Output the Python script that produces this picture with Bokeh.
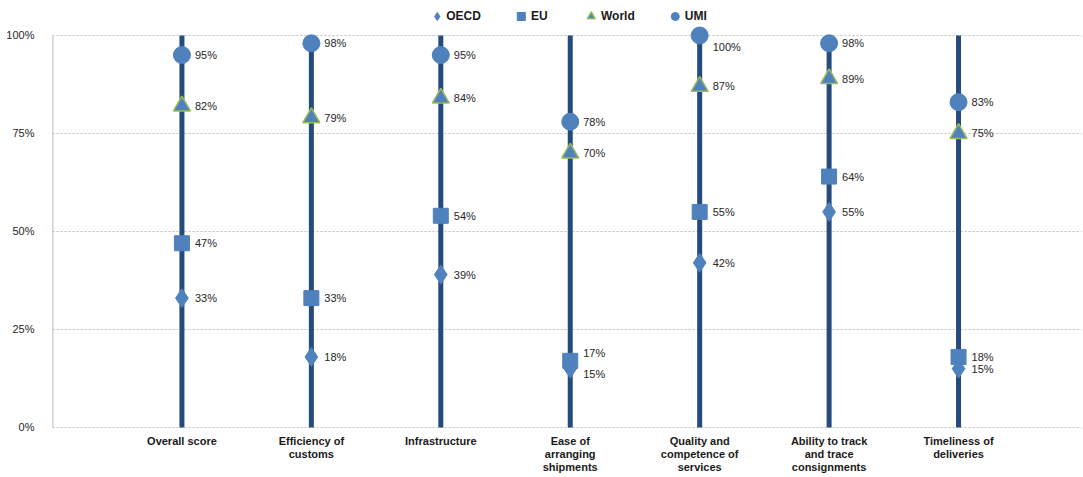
from bokeh.plotting import figure
from bokeh.models import Range1d, FixedTicker, Legend, LegendItem, ColumnDataSource
from bokeh.core.properties import value
from bokeh.embed import file_html
from bokeh.resources import INLINE

# ---- data ----
categories = ["Overall score", "Efficiency of\ncustoms", "Infrastructure",
              "Ease of\narranging\nshipments", "Quality and\ncompetence of\nservices",
              "Ability to track\nand trace\nconsignments", "Timeliness of\ndeliveries"]
oecd = [33, 18, 39, 15, 42, 55, 15]
eu = [47, 33, 54, 17, 55, 64, 18]
world = [82, 79, 84, 70, 87, 89, 75]
umi = [95, 98, 95, 78, 100, 98, 83]
y_ticks = [0, 25, 50, 75, 100]
series_names = ["OECD", "EU", "World", "UMI"]

FONT = "Liberation Sans"
MARK = "#4F81BD"
LINE = "#254A7C"
TXT = "#262626"

xs = list(range(1, len(categories) + 1))

p = figure(width=1083, height=477, output_backend="svg", toolbar_location=None,
           x_axis_location=None,
           x_range=Range1d(0, 7.95), y_range=Range1d(-12.76, 107.65),
           min_border_left=52, min_border_right=2, min_border_top=5, min_border_bottom=0)
p.outline_line_color = None
p.background_fill_color = "white"

# grid
p.xgrid.grid_line_color = None
p.ygrid.ticker = FixedTicker(ticks=y_ticks)
p.ygrid.grid_line_color = "#BFBFBF"
p.ygrid.grid_line_dash = "2 2"

# y axis
p.yaxis.ticker = FixedTicker(ticks=y_ticks)
p.yaxis.major_label_overrides = {t: f"{t}%" for t in y_ticks}
p.yaxis.axis_line_color = None
p.yaxis.major_tick_line_color = None
p.yaxis.minor_tick_line_color = None
p.yaxis.major_label_text_font = FONT
p.yaxis.major_label_text_font_size = "11px"
p.yaxis.major_label_text_color = TXT
p.yaxis.major_label_standoff = 12

# left axis line from 0 to 100%
x0 = p.x_range.start
p.segment(x0=[x0], y0=[y_ticks[0]], x1=[x0], y1=[y_ticks[-1]], line_color="#A6A6A6", line_width=1.5)

# category labels under the axis
p.text(x=xs, y=[y_ticks[0]] * len(xs), text=categories, y_offset=8,
       text_font=value(FONT), text_font_size="11px", text_font_style="bold",
       text_color="#1A1A1A", text_align="center", text_baseline="top",
       text_line_height=1.08)

# vertical lines
p.segment(x0=xs, y0=[y_ticks[0]] * len(xs), x1=xs, y1=[y_ticks[-1]] * len(xs),
          line_color=LINE, line_width=5)

markers = [("diamond", 19), ("square", 15), ("triangle", 17), ("circle", 17)]
all_vals = [oecd, eu, world, umi]
# label nudges (pixels) where labels would collide
nudges = {("EU", 3): -8, ("OECD", 3): 5, ("UMI", 4): 12}

renderers = []
for name, vals, (mk, sz) in zip(series_names, all_vals, markers):
    src = ColumnDataSource(dict(x=xs, y=vals,
                                lbl=[f"{v}%" for v in vals],
                                dy=[nudges.get((name, i), 0) for i in range(len(vals))]))
    if mk == "triangle":
        r = p.scatter("x", "y", source=src, marker=mk, size=sz, fill_color=MARK,
                      line_color="#9BBB59", line_width=1.5)
    else:
        r = p.scatter("x", "y", source=src, marker=mk, size=sz, fill_color=MARK,
                      line_color=MARK)
    renderers.append(r)
    p.text("x", "y", text="lbl", source=src, x_offset=13, y_offset="dy",
           text_font=value(FONT), text_font_size="11px", text_color=TXT,
           text_baseline="middle", text_align="left")

legend = Legend(items=[LegendItem(label=n, renderers=[r]) for n, r in zip(series_names, renderers)],
                orientation="horizontal", location="top_center",
                background_fill_alpha=0, border_line_alpha=0,
                glyph_width=20, glyph_height=20, label_standoff=0, spacing=30,
                padding=0, margin=1,
                label_text_font=FONT, label_text_font_size="12px",
                label_text_font_style="bold", label_text_color="#1A1A1A")
p.add_layout(legend, "center")

open("out.html", "w").write(file_html(p, INLINE))
